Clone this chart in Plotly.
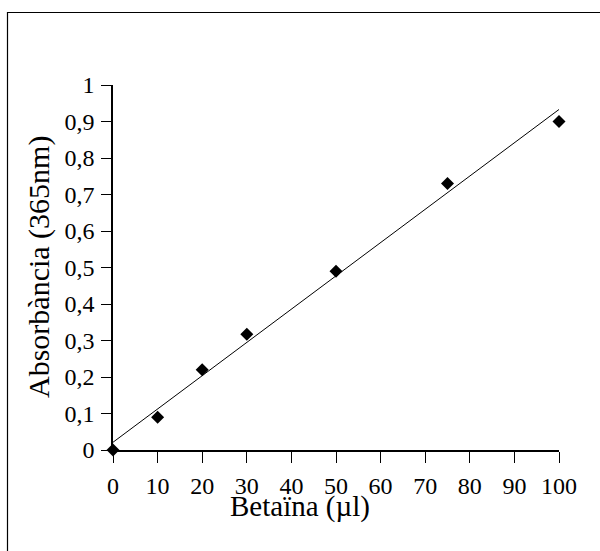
import numpy as np
import plotly.graph_objects as go

betaina = [0, 10, 20, 30, 50, 75, 100]
absorbancia = [0.0, 0.09, 0.22, 0.317, 0.49, 0.73, 0.90]
x_ticks = [0, 10, 20, 30, 40, 50, 60, 70, 80, 90, 100]
y_ticks = [0, 0.1, 0.2, 0.3, 0.4, 0.5, 0.6, 0.7, 0.8, 0.9, 1]
y_ticktext = ["0", "0,1", "0,2", "0,3", "0,4", "0,5", "0,6", "0,7", "0,8", "0,9", "1"]

slope, intercept = np.polyfit(betaina, absorbancia, 1)
fit_x = [0, 100]
fit_y = [intercept + slope * v for v in fit_x]

FONT = "Liberation Serif"
W, H = 600, 551
ml, mr, mt, mb = 113, 41, 85, 101
pw, ph = W - ml - mr, H - mt - mb

def px(xp):
    return (xp - ml) / pw

def py(yp):
    return (H - mb - yp) / ph

fig = go.Figure()
fig.add_trace(go.Scatter(x=fit_x, y=fit_y, mode="lines",
                         line=dict(color="black", width=1), showlegend=False,
                         cliponaxis=False))
fig.add_trace(go.Scatter(x=betaina, y=absorbancia, mode="markers",
                         marker=dict(symbol="diamond", size=10, color="black"),
                         showlegend=False, cliponaxis=False))

fig.update_layout(
    width=W, height=H,
    margin=dict(l=ml, r=mr, t=mt, b=mb),
    paper_bgcolor="white", plot_bgcolor="white",
    font=dict(family=FONT, color="black", size=24),
    xaxis=dict(range=[0, 100], tickvals=x_ticks, ticks="outside", ticklen=11,
               tickcolor="black", tickwidth=1, showline=True, linecolor="black",
               linewidth=1.5, showgrid=False, zeroline=False,
               tickfont=dict(family=FONT, size=24), ticklabelstandoff=2),
    yaxis=dict(range=[0, 1], tickvals=y_ticks, ticktext=y_ticktext,
               ticks="outside", ticklen=10, tickcolor="black", tickwidth=1,
               showline=True, linecolor="black", linewidth=1.5, showgrid=False,
               zeroline=False, tickfont=dict(family=FONT, size=24),
               ticklabelstandoff=2),
    shapes=[dict(type="rect", xref="paper", yref="paper",
                 x0=px(7.5), x1=px(640), y0=py(600), y1=py(12.5),
                 line=dict(color="black", width=1.2), layer="below")],
    annotations=[
        dict(text="Betaïna (µl)", xref="paper", yref="paper",
             x=px(300), y=py(506), showarrow=False,
             font=dict(family=FONT, size=29), xanchor="center", yanchor="middle"),
        dict(text="Absorbància (365nm)", xref="paper", yref="paper",
             x=px(39), y=py(267), showarrow=False, textangle=-90,
             font=dict(family=FONT, size=30), xanchor="center", yanchor="middle"),
    ],
)

fig.write_html("out.html")
